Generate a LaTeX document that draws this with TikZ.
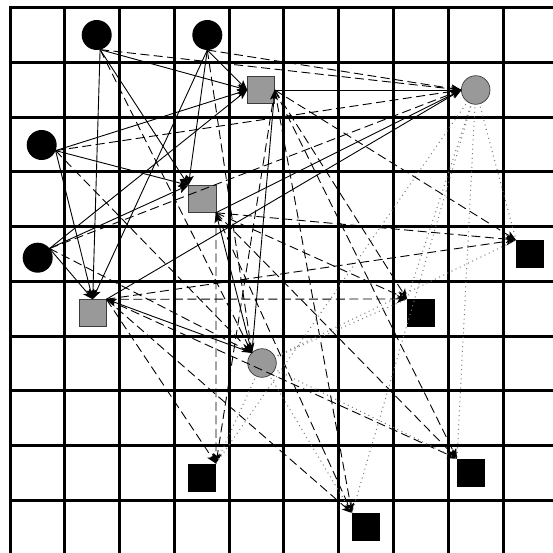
\documentclass[tikz,border=0pt]{standalone}
\usetikzlibrary{arrows.meta}
\definecolor{hidgray}{RGB}{153,153,153}
\definecolor{rimgray}{RGB}{60,60,60}
\definecolor{dotgray}{RGB}{120,120,120}
\begin{document}
\begin{tikzpicture}[x=1pt,y=-1pt,
  gridline/.style={line width=3pt, black, line cap=rect},
  incircle/.style={circle, fill=black, minimum size=30pt, inner sep=0pt, outer sep=0pt},
  hidsq/.style={rectangle, fill=hidgray, draw=rimgray, line width=0.7pt, minimum size=27.5pt, inner sep=0pt, outer sep=0pt},
  hidcirc/.style={circle, fill=hidgray, draw=rimgray, line width=0.7pt, minimum size=28.6pt, inner sep=0pt, outer sep=0pt},
  outsq/.style={rectangle, fill=black, minimum size=28pt, inner sep=0pt, outer sep=0pt},
  solidedge/.style={-{Stealth[length=10pt,width=8pt,inset=2.5pt]}, line width=0.9pt, black},
  dashededge/.style={solidedge, dash pattern=on 9pt off 4.5pt},
  dottededge/.style={draw=dotgray, line width=1pt, dash pattern=on 1pt off 3.6pt, shorten <=3pt}
]
\useasboundingbox (0,0) rectangle (553,553);
\fill[white] (0,0) rectangle (553,553);
\begin{scope}
  \clip (0,0) rectangle (553,553);
  \foreach \k in {0,...,10} {
    \draw[gridline] ({10+54.78*\k},7.5) -- ({10+54.78*\k},575);
    \draw[gridline] (10,{7.5+54.78*\k}) -- (575,{7.5+54.78*\k});
  }
\end{scope}

% input circles
\node[incircle] (P1) at (96.7,35) {};
\node[incircle] (P2) at (207.3,35) {};
\node[incircle] (P3) at (41.7,145) {};
\node[incircle] (P4) at (37.7,257.7) {};
% gray squares
\node[hidsq] (A) at (261,90) {};
\node[hidsq] (B) at (202.2,199) {};
\node[hidsq] (C) at (92.7,313) {};
% gray circles
\node[hidcirc] (D) at (475.7,90) {};
\node[hidcirc] (E) at (262,363) {};
% output squares
\node[outsq] (F) at (530,254) {};
\node[outsq] (G) at (421,313) {};
\node[outsq] (H) at (471,472.7) {};
\node[outsq] (I) at (366,527) {};
\node[outsq] (J) at (202,477.7) {};

% inputs -> gray squares (solid), inputs -> gray circles (dashed)
\foreach \s/\a in {P1/-77,P2/-90,P3/-22,P4/38} {
  \draw[solidedge] (\s.\a) -- (A.west);
  \draw[solidedge] (\s.\a) -- (B.north west);
  \draw[solidedge] (\s.\a) -- (C.north);
  \draw[dashededge] (\s.\a) -- (D.west);
  \draw[dashededge] (\s.\a) -- (E.north west);
}
% gray squares -> D (solid), E -> gray squares (solid)
\draw[solidedge] (A.east) -- (D.west);
\draw[solidedge] (B.south east) -- (D.west);
\draw[solidedge] (C.north east) -- (D.west);
\draw[solidedge] (E.north west) -- (A.east);
\draw[solidedge] (E.north west) -- (B.south east);
\draw[solidedge] (E.north west) -- (C.north east);
% gray squares -> outputs (dashed)
\foreach \q in {A.east,B.south east,C.north east} {
  \draw[dashededge] (\q) -- (F.north west);
  \draw[dashededge] (\q) -- (G.north west);
  \draw[dashededge] (\q) -- (H.north west);
  \draw[dashededge] (\q) -- (I.north west);
  \draw[dashededge] (\q) -- (J.north east);
}
% gray circles -> outputs (dotted)
\foreach \c in {D,E} {
  \draw[dottededge] (\c) -- (F.north west);
  \draw[dottededge] (\c) -- (G.north west);
  \draw[dottededge] (\c) -- (H.north west);
  \draw[dottededge] (\c) -- (I.north west);
  \draw[dottededge] (\c) -- (J.north east);
}
\end{tikzpicture}
\end{document}
